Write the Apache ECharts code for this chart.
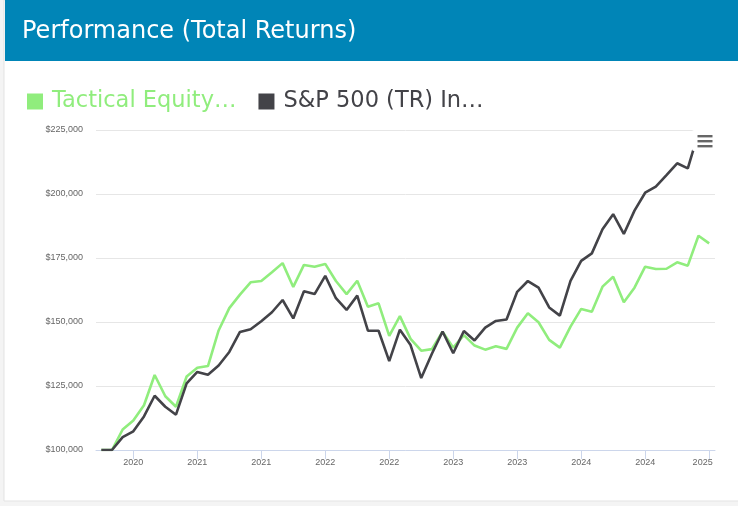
<!DOCTYPE html>
<html>
<head>
<meta charset="utf-8">
<script src="https://cdn.jsdelivr.net/npm/echarts@6/dist/echarts.min.js"></script>
<style>
  html, body { margin: 0; padding: 0; background: #f4f4f4; }
  #main { width: 738px; height: 506px; }
</style>
</head>
<body>
<div id="main"></div>
<script>
// month-end dates, Apr 2020 .. Jan 2025
var months = [
    '2020-04', '2020-05', '2020-06', '2020-07', '2020-08', '2020-09', '2020-10', '2020-11', '2020-12',
    '2021-01', '2021-02', '2021-03', '2021-04', '2021-05', '2021-06', '2021-07', '2021-08', '2021-09', '2021-10', '2021-11', '2021-12',
    '2022-01', '2022-02', '2022-03', '2022-04', '2022-05', '2022-06', '2022-07', '2022-08', '2022-09', '2022-10', '2022-11', '2022-12',
    '2023-01', '2023-02', '2023-03', '2023-04', '2023-05', '2023-06', '2023-07', '2023-08', '2023-09', '2023-10', '2023-11', '2023-12',
    '2024-01', '2024-02', '2024-03', '2024-04', '2024-05', '2024-06', '2024-07', '2024-08', '2024-09', '2024-10', '2024-11', '2024-12',
    '2025-01'
];

var tactical = [
    100000, 100000, 108000, 111500, 117500, 129300, 121000, 116900, 128700,
    132100, 132800, 146700, 155400, 160700, 165500, 166000, 169400, 173000, 163700, 172300, 171600,
    172700, 166000, 160900, 166100, 156000, 157300, 144600, 152300, 143400, 138800, 139400, 146200,
    140000, 144900, 140800, 139200, 140500, 139500, 147800, 153400, 149900, 143000, 140000, 148200,
    155100, 154000, 163800, 167700, 157700, 163400, 171600, 170700, 170800, 173300, 172000, 183700,
    180700
];

var sp500 = [
    100000, 100000, 105000, 107300, 113100, 121200, 116900, 113800, 126000,
    130500, 129400, 133000, 138300, 146100, 147200, 150300, 153800, 158600, 151400, 162000, 160900,
    168000, 159300, 154700, 160300, 146600, 146600, 134700, 147000, 141000, 128100, 137600, 146300,
    137800, 146500, 142800, 147800, 150400, 151000, 161800, 166000, 163400, 155700, 152500, 166100,
    173900, 176800, 186200, 192100, 184400, 193500, 200500, 202900, 207400, 212000, 210000, 224000,
    217500
];

// tick positions (every 6 months, starting Jul 2020)
var tickIdx = [3, 9, 15, 21, 27, 33, 39, 45, 51, 57];

var names = ['Tactical Equity…', 'S&P 500 (TR) In…'];
var colors = ['#90ed7d', '#434348'];

var pairs = function(vals) {
    return vals.map(function(v, i) { return [i, v]; });
};

var myChart = echarts.init(document.getElementById('main'));

var menuBar = function(y) {
    return {
        type: 'rect',
        z: 100,
        shape: { x: 5.5, y: y, width: 15, height: 2.4 },
        style: { fill: '#666666' }
    };
};

var option = {
    backgroundColor: '#f4f4f4',
    animation: false,
    graphic: [{
        type: 'rect',
        shape: { x: 4, y: 0, width: 740, height: 501 },
        style: { fill: '#ffffff', stroke: '#e3e3e3', lineWidth: 1 },
        z: -10
    }, {
        type: 'rect',
        shape: { x: 5, y: 0, width: 740, height: 61 },
        style: { fill: '#0085b7' },
        z: -9
    }, {
        // export menu button
        type: 'group',
        left: 692,
        top: 130,
        z: 100,
        children: [{
            type: 'rect',
            z: 100,
            shape: { x: 0, y: 0, width: 24, height: 21, r: 2 },
            style: { fill: '#ffffff' }
        }, menuBar(5), menuBar(10), menuBar(15)]
    }],
    title: {
        text: 'Performance (Total Returns)',
        left: 17,
        top: 15,
        textStyle: {
            color: '#ffffff',
            fontSize: 24,
            fontWeight: 'normal',
            fontFamily: 'DejaVu Sans'
        }
    },
    legend: {
        left: 22,
        top: 85,
        icon: 'rect',
        itemWidth: 16,
        itemHeight: 16,
        itemGap: 22,
        data: [{
            name: names[0],
            textStyle: { color: colors[0] }
        }, {
            name: names[1],
            textStyle: { color: colors[1] }
        }],
        textStyle: {
            fontSize: 22.5,
            fontFamily: 'DejaVu Sans',
            padding: [0, 0, 0, 4]
        }
    },
    grid: {
        left: 96,
        right: 23,
        top: 130,
        bottom: 56
    },
    xAxis: {
        type: 'value',
        min: -0.5,
        max: 57.55,
        splitLine: { show: false },
        axisLine: { lineStyle: { color: '#ccd6eb', width: 1 } },
        axisTick: {
            customValues: tickIdx,
            length: 9,
            lineStyle: { color: '#ccd6eb' }
        },
        axisLabel: {
            customValues: tickIdx,
            color: '#666666',
            fontSize: 9,
            fontFamily: 'Liberation Sans',
            margin: 8,
            formatter: function(v) {
                var y = months[v].slice(0, 4);
                return v === tickIdx[tickIdx.length - 1] ? '{r|' + y + '}' : y;
            },
            rich: {
                r: { fontSize: 9, color: '#666666', fontFamily: 'Liberation Sans', padding: [0, 13, 0, 0] }
            }
        }
    },
    yAxis: {
        type: 'value',
        min: 100000,
        max: 225000,
        interval: 25000,
        axisLine: { show: false },
        axisTick: { show: false },
        splitLine: { lineStyle: { color: '#e6e6e6', width: 1 } },
        axisLabel: {
            color: '#666666',
            fontSize: 9,
            fontFamily: 'Liberation Sans',
            margin: 13,
            formatter: function(v) {
                return '$' + v.toString().replace(/\B(?=(\d{3})+(?!\d))/g, ',');
            }
        }
    },
    series: [{
        name: names[0],
        type: 'line',
        data: pairs(tactical),
        symbol: 'none',
        lineStyle: { color: colors[0], width: 2.6 },
        itemStyle: { color: colors[0] }
    }, {
        name: names[1],
        type: 'line',
        data: pairs(sp500),
        symbol: 'none',
        lineStyle: { color: colors[1], width: 2.6 },
        itemStyle: { color: colors[1] }
    }]
};

myChart.setOption(option);
</script>
</body>
</html>
